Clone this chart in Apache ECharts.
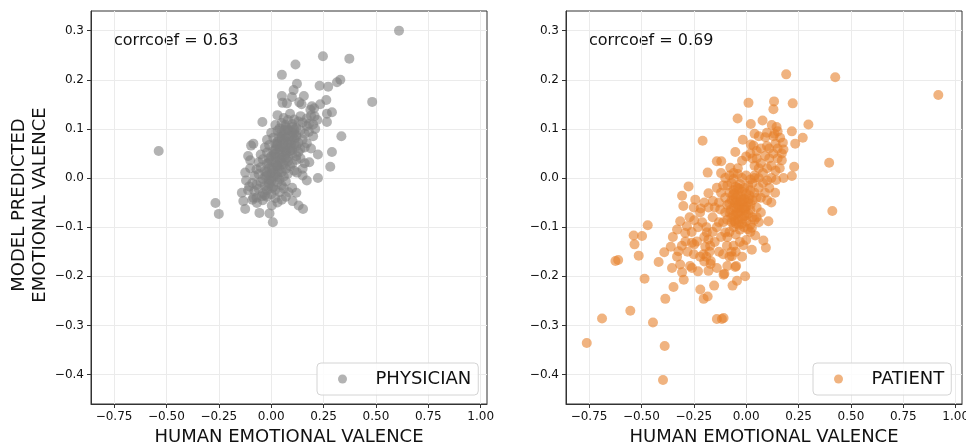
<!DOCTYPE html>
<html>
<head>
<meta charset="utf-8">
<script src="https://cdn.jsdelivr.net/npm/echarts@6/dist/echarts.min.js"></script>
<style>
  html, body { margin: 0; padding: 0; background: #fff; }
  #chart { width: 966px; height: 444px; }
</style>
</head>
<body>
<div id="chart"></div>
<script>
// tick positions of both panels
var xTicks = [-0.75, -0.5, -0.25, 0, 0.25, 0.5, 0.75, 1.0];
var yTicks = [-0.4, -0.3, -0.2, -0.1, 0, 0.1, 0.2, 0.3];

var corrPhysician = 0.63;
var corrPatient = 0.69;

// [human valence, model predicted valence]
var physicianPoints = [
    [0.61,0.30],[0.247,0.248],[0.373,0.243],[0.116,0.231],[0.051,0.210],[0.33,0.200],[0.314,0.195],[0.231,0.188],
    [0.272,0.186],[0.123,0.192],[0.107,0.179],[0.051,0.167],[0.482,0.155],[0.263,0.159],[0.234,0.150],[0.156,0.167],
    [0.099,0.165],[0.194,0.146],[0.205,0.142],[0.054,0.153],[0.075,0.152],[0.134,0.154],[0.145,0.150],[0.29,0.134],
    [0.266,0.131],[0.187,0.139],[0.207,0.126],[0.22,0.118],[0.266,0.114],[-0.042,0.114],[0.335,0.085],[0.223,0.048],
    [0.29,0.053],[0.282,0.023],[0.223,0.0],[0.182,0.032],[-0.537,0.055],[0.15,0.019],[0.123,0.011],[-0.085,0.07],
    [-0.096,0.066],[-0.10,0.036],[-0.124,0.011],[-0.266,-0.051],[-0.25,-0.073],[-0.14,-0.03],[-0.133,-0.047],[-0.124,-0.063],
    [-0.056,-0.071],[-0.008,-0.072],[0.008,-0.09],[0.003,-0.056],[0.051,-0.044],[0.102,-0.047],[0.131,-0.056],[0.152,-0.063],
    [0.083,-0.029],[-0.068,-0.051],[-0.085,-0.04],[-0.105,-0.017],[-0.045,-0.037],
    [0.03,0.128],[0.06,0.122],[0.09,0.131],[0.11,0.119],[0.14,0.126],[0.17,0.121],[0.19,0.127],[0.08,0.118],
    [0.02,0.108],[0.05,0.112],[0.07,0.104],[0.1,0.11],[0.12,0.102],[0.15,0.113],[0.17,0.106],[0.2,0.109],[0.04,0.101],[0.13,0.115],
    [0.0,0.092],[0.03,0.096],[0.06,0.089],[0.08,0.098],[0.1,0.093],[0.12,0.087],[0.14,0.097],[0.16,0.09],[0.18,0.094],[0.05,0.085],[0.11,0.099],[0.09,0.086],
    [-0.02,0.078],[0.01,0.082],[0.03,0.074],[0.05,0.079],[0.07,0.083],[0.09,0.075],[0.11,0.08],[0.13,0.072],[0.15,0.078],[0.17,0.071],[0.06,0.071],[0.12,0.084],[0.02,0.07],
    [-0.03,0.062],[-0.01,0.067],[0.02,0.058],[0.04,0.064],[0.06,0.06],[0.08,0.068],[0.1,0.057],[0.12,0.065],[0.14,0.059],[0.07,0.055],[0.11,0.069],[0.03,0.069],[0.16,0.062],
    [-0.05,0.048],[-0.02,0.052],[0.0,0.044],[0.02,0.05],[0.04,0.046],[0.06,0.053],[0.08,0.042],[0.1,0.049],[0.12,0.045],[0.13,0.053],[0.05,0.041],[0.09,0.055],[0.01,0.055],
    [-0.06,0.032],[-0.04,0.038],[-0.02,0.029],[0.0,0.035],[0.02,0.031],[0.04,0.037],[0.06,0.027],[0.08,0.034],[0.1,0.029],[0.12,0.037],[0.03,0.026],[0.07,0.039],[-0.01,0.04],
    [-0.07,0.018],[-0.05,0.022],[-0.03,0.014],[-0.01,0.02],[0.01,0.016],[0.03,0.023],[0.05,0.012],[0.07,0.019],[0.09,0.024],[0.11,0.015],[0.0,0.01],[0.04,0.018],
    [-0.08,0.004],[-0.06,0.008],[-0.04,-0.002],[-0.02,0.005],[0.0,0.0],[0.02,0.007],[0.04,-0.003],[0.06,0.003],[0.08,0.009],[-0.01,-0.004],[0.03,0.002],
    [-0.09,-0.01],[-0.07,-0.014],[-0.05,-0.008],[-0.03,-0.016],[-0.01,-0.011],[0.01,-0.018],[0.03,-0.009],[0.05,-0.015],[0.07,-0.007],[0.0,-0.006],
    [-0.08,-0.027],[-0.06,-0.022],[-0.04,-0.031],[-0.02,-0.025],[0.0,-0.033],[0.02,-0.024],[0.04,-0.029],[0.06,-0.021],[-0.03,-0.035],
    [-0.07,-0.04],[-0.04,-0.045],[-0.02,-0.038],[0.02,-0.041],[0.03,-0.05],[-0.09,-0.044],[0.07,-0.038],
    [-0.11,0.045],[-0.1,0.02],[-0.12,-0.005],[-0.11,-0.025],[0.16,0.03],[0.14,0.04],[0.19,0.06],[0.2,0.085],
    [0.18,0.11],[0.21,0.1],[0.15,0.005],[0.17,-0.005],[0.1,-0.02],[0.12,-0.03],
    [0.004,0.021],[0.022,0.043],[0.041,0.058],[0.063,0.079],[0.081,0.097],[0.033,0.012],[0.052,0.028],[0.072,0.051],
    [0.094,0.068],[0.108,0.091],[-0.012,0.031],[0.013,0.049],[0.028,0.066],[0.047,0.092],[0.068,0.108],[-0.028,0.003],
    [-0.014,-0.017],[0.012,0.002],[0.054,0.064],[0.083,0.073],[0.101,0.084],[0.043,0.033],[0.064,0.044],[0.024,0.026],
    [-0.022,0.012],[0.003,-0.021],[0.093,0.061],[0.102,0.104],[0.062,0.098],[0.038,0.083]
];

var patientPoints = [
    [0.917,0.169],[0.425,0.205],[0.191,0.211],[0.011,0.153],[0.133,0.156],[0.13,0.14],[0.222,0.152],[-0.041,0.121],
    [0.022,0.11],[0.078,0.117],[0.122,0.108],[0.145,0.104],[0.297,0.109],[0.099,0.092],[0.135,0.09],[0.218,0.095],
    [0.091,0.083],[0.162,0.082],[0.27,0.082],[-0.016,0.078],[0.175,0.072],[0.234,0.07],[0.178,0.058],[0.022,0.068],
    [0.035,0.066],[0.099,0.065],[-0.052,0.053],[0.0,0.044],[0.17,0.036],[0.229,0.023],[0.178,0.0],[0.218,0.004],
    [0.143,-0.004],[0.138,-0.03],[0.396,0.031],[0.411,-0.067],[0.106,-0.088],[-0.208,0.076],[-0.184,0.011],[-0.14,0.034],
    [-0.119,0.034],[-0.076,0.021],[-0.275,-0.017],[-0.306,-0.036],[-0.3,-0.057],[-0.243,-0.044],[-0.217,-0.062],[-0.18,-0.031],
    [-0.159,-0.047],[-0.124,-0.064],[-0.248,-0.086],[-0.315,-0.088],[-0.283,-0.098],[-0.47,-0.096],[-0.537,-0.117],[-0.497,-0.118],
    [-0.533,-0.135],[-0.513,-0.158],[-0.624,-0.169],[-0.611,-0.167],[-0.418,-0.171],[-0.391,-0.151],[-0.485,-0.205],[-0.354,-0.183],
    [-0.323,-0.149],[-0.307,-0.138],[-0.29,-0.129],[-0.291,-0.112],[-0.315,-0.176],[-0.306,-0.192],[-0.298,-0.207],[-0.347,-0.222],
    [-0.386,-0.246],[-0.553,-0.27],[-0.688,-0.286],[-0.445,-0.294],[-0.761,-0.336],[-0.389,-0.342],[-0.397,-0.411],[-0.268,-0.179],
    [-0.259,-0.183],[-0.248,-0.135],[-0.235,-0.129],[-0.259,-0.132],[-0.204,-0.155],[-0.219,-0.227],[-0.203,-0.246],[-0.184,-0.241],
    [-0.153,-0.219],[-0.14,-0.287],[-0.108,-0.285],[-0.18,-0.189],[-0.169,-0.169],[-0.14,-0.183],[-0.104,-0.195],[-0.09,-0.179],
    [-0.065,-0.219],[-0.044,-0.209],[-0.048,-0.179],[-0.005,-0.2],[-0.068,-0.159],[-0.06,-0.138],[-0.013,-0.137],[0.027,-0.146],
    [0.0,-0.126],[0.043,-0.117],[0.082,-0.127],[0.094,-0.142],[0.008,-0.104],[0.027,-0.101],[-0.1,-0.111],[-0.092,-0.138],
    [-0.188,-0.111],[-0.172,-0.138],[-0.108,-0.197],[-0.052,-0.181],[-0.116,-0.287],
    [-0.19,-0.1],[-0.2,-0.12],[-0.18,-0.125],[-0.195,-0.14],[-0.175,-0.15],[-0.19,-0.16],[-0.2,-0.17],[-0.17,-0.175],
    [-0.16,-0.11],[-0.15,-0.13],[-0.13,-0.09],[-0.14,-0.1],[-0.12,-0.12],[-0.13,-0.15],[-0.11,-0.155],[-0.08,-0.16],
    [-0.07,-0.15],[-0.05,-0.15],[-0.03,-0.13],[-0.02,-0.16],[0.02,-0.11],[0.06,-0.09],[0.05,-0.08],[-0.22,-0.07],
    [-0.25,-0.06],[-0.27,-0.08],[-0.23,-0.1],[-0.26,-0.11],[-0.21,-0.09],[-0.16,-0.08],[-0.18,-0.06],[-0.15,-0.06],
    [-0.2,-0.05],[-0.1,-0.07],[-0.11,-0.09],[-0.09,-0.12],[-0.25,-0.155],[-0.23,-0.19],[-0.22,-0.16],[-0.28,-0.15],
    [-0.33,-0.16],[-0.35,-0.12],[-0.33,-0.105],[-0.36,-0.14],
    [0.05,0.04],[0.07,0.03],[0.09,0.045],[0.11,0.04],[0.13,0.05],[0.1,0.02],[0.12,0.025],[0.14,0.015],
    [0.08,0.01],[0.06,0.02],[0.04,0.025],[0.03,0.04],[0.15,0.04],[0.16,0.02],[0.12,0.0],[0.1,-0.005],
    [0.08,-0.01],[0.06,0.0],[0.04,0.005],[0.11,0.06],[0.14,0.07],[0.07,0.06],[0.05,0.055],[0.02,0.05],
    [-0.02,0.035],[-0.04,0.02],[-0.06,0.01],[0.09,-0.03],[0.07,-0.04],[0.1,-0.045],[0.12,-0.05],[0.11,-0.02],
    [0.15,0.06],[0.17,0.05],[0.13,0.085],[0.15,0.095],[0.06,0.085],[0.04,0.09],
    [-0.1,0.0],[-0.08,0.005],[-0.06,-0.002],[-0.04,0.008],[-0.02,0.0],[0.0,0.005],[0.02,-0.003],[0.04,0.0],
    [-0.09,-0.015],[-0.07,-0.01],[-0.05,-0.018],[-0.03,-0.012],[-0.01,-0.02],[0.01,-0.015],[0.03,-0.01],[-0.08,-0.03],
    [-0.06,-0.025],[-0.04,-0.035],[-0.02,-0.028],[0.0,-0.032],[0.02,-0.025],[0.04,-0.03],[-0.1,-0.04],[-0.07,-0.045],
    [-0.05,-0.04],[-0.03,-0.048],[-0.01,-0.042],[0.01,-0.05],[0.03,-0.045],[0.05,-0.04],[-0.09,-0.055],[-0.06,-0.06],
    [-0.04,-0.055],[-0.02,-0.062],[0.0,-0.058],[0.02,-0.065],[-0.08,-0.07],[-0.05,-0.075],[-0.03,-0.068],[-0.01,-0.078],
    [0.01,-0.072],[0.03,-0.08],[-0.09,-0.085],[-0.07,-0.09],[-0.04,-0.085],[-0.02,-0.093],[0.0,-0.088],[0.02,-0.095],
    [-0.06,-0.1],[-0.03,-0.105],[-0.01,-0.1],[-0.05,-0.115],[-0.08,-0.11],[-0.04,-0.02],[-0.06,-0.045],[-0.035,-0.075],
    [-0.055,-0.088],[-0.015,-0.05],[-0.045,-0.062],[-0.025,-0.038],[-0.065,-0.035],[-0.075,-0.065],[0.015,-0.035],[-0.005,-0.065],
    [-0.035,-0.095],[-0.12,-0.03],[-0.13,-0.05],[-0.11,-0.015],[-0.12,0.01],[-0.14,-0.02],[0.05,-0.06],[0.06,-0.02],
    [0.04,-0.085],[0.07,-0.07],
    [-0.052,-0.051],[-0.031,-0.059],[-0.071,-0.081],[-0.018,-0.083],[-0.043,-0.071],[-0.058,-0.031],[-0.008,-0.061],[0.012,-0.043],
    [-0.033,-0.022],[-0.049,-0.093],[0.002,-0.076],[-0.081,-0.052],[0.021,-0.054],[-0.062,-0.077],[-0.022,-0.046]
];

var FONT = 'DejaVu Sans';
var minus = function (s) { return s.replace('-', '\u2212'); };

function xAxisFor(gridIndex) {
    return {
        type: 'value', gridIndex: gridIndex, min: -0.86, max: 1.03,
        name: 'HUMAN EMOTIONAL VALENCE', nameLocation: 'middle', nameGap: 20,
        nameTextStyle: { fontFamily: FONT, fontSize: 18, color: '#111' },
        axisLine: { show: true, onZero: false, lineStyle: { color: '#333' } },
        axisTick: { show: true, length: 4, customValues: xTicks, lineStyle: { color: '#333' } },
        axisLabel: {
            customValues: xTicks, margin: 7, fontFamily: FONT, fontSize: 12, color: '#111',
            formatter: function (v) { return minus(v.toFixed(2)); }
        },
        splitLine: { show: true, lineStyle: { color: '#ebebeb', width: 1 } }
    };
}

function yAxisFor(gridIndex) {
    return {
        type: 'value', gridIndex: gridIndex, min: -0.46, max: 0.34,
        axisLine: { show: true, onZero: false, lineStyle: { color: '#333' } },
        axisTick: { show: true, length: 4, customValues: yTicks, lineStyle: { color: '#333' } },
        axisLabel: {
            customValues: yTicks, margin: 7, fontFamily: FONT, fontSize: 12, color: '#111',
            formatter: function (v) { return minus(v.toFixed(1)); }
        },
        splitLine: { show: true, lineStyle: { color: '#ebebeb', width: 1 } }
    };
}

function legendFor(name, left) {
    return {
        data: [name], left: left, top: 363, orient: 'horizontal',
        padding: [7, 7, 7, 21], itemWidth: 28, itemHeight: 9, icon: 'circle',
        borderColor: '#d4d4d4', borderWidth: 1, borderRadius: 4,
        backgroundColor: 'rgba(255,255,255,0.85)',
        textStyle: { fontFamily: FONT, fontSize: 18, color: '#111', padding: [0, 0, 0, 14] },
        selectedMode: false
    };
}

var myChart = echarts.init(document.getElementById('chart'));

var option = {
    animation: false,
    backgroundColor: '#fff',
    grid: [
        { left: 91, top: 11, width: 396, height: 393, outerBoundsMode: 'none', show: true, borderColor: '#333', borderWidth: 1, backgroundColor: 'transparent' },
        { left: 566, top: 11, width: 396, height: 393, outerBoundsMode: 'none', show: true, borderColor: '#333', borderWidth: 1, backgroundColor: 'transparent' }
    ],
    xAxis: [xAxisFor(0), xAxisFor(1)],
    yAxis: [yAxisFor(0), yAxisFor(1)],
    legend: [legendFor('PHYSICIAN', 317), legendFor('PATIENT', 813)],
    graphic: [
        {
            type: 'text', left: 114, top: 33,
            style: { text: 'corrcoef = ' + corrPhysician.toFixed(2), font: '16px "DejaVu Sans"', fill: '#111' }
        },
        {
            type: 'text', left: 589, top: 33,
            style: { text: 'corrcoef = ' + corrPatient.toFixed(2), font: '16px "DejaVu Sans"', fill: '#111' }
        },
        {
            type: 'text', x: 30, y: 205, rotation: Math.PI / 2,
            style: {
                text: 'MODEL PREDICTED\nEMOTIONAL VALENCE', font: '18px "DejaVu Sans"', fill: '#111',
                align: 'center', verticalAlign: 'middle', lineHeight: 21
            }
        }
    ],
    series: [
        {
            name: 'PHYSICIAN', type: 'scatter', xAxisIndex: 0, yAxisIndex: 0,
            symbolSize: 10, data: physicianPoints,
            itemStyle: { color: '#808080', opacity: 0.6 }
        },
        {
            name: 'PATIENT', type: 'scatter', xAxisIndex: 1, yAxisIndex: 1,
            symbolSize: 10, data: patientPoints,
            itemStyle: { color: '#e6802c', opacity: 0.6 }
        }
    ]
};

myChart.setOption(option, true);
</script>
</body>
</html>
